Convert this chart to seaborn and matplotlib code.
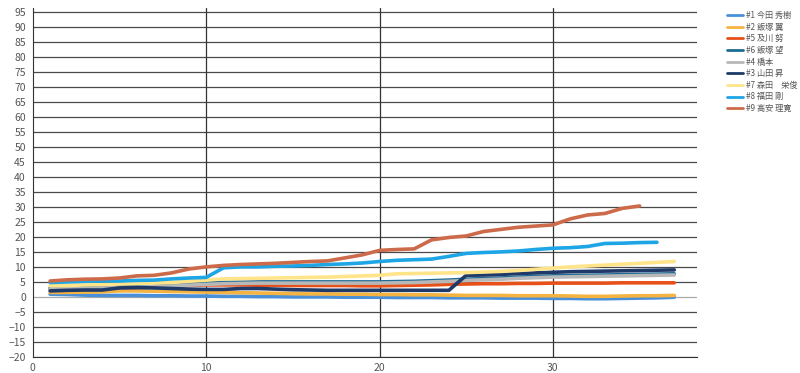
import numpy as np
import pandas as pd
import matplotlib
matplotlib.use("Agg")
import matplotlib.pyplot as plt
import seaborn as sns

players = ["#1 今田 秀樹", "#2 飯塚 翼", "#5 及川 努", "#6 飯塚 望", "#4 橋本",
           "#3 山田 昇", "#7 森田　栄俊", "#8 福田 剛", "#9 高安 理寛"]
colors = ["#4a90d9", "#f5b342", "#e8501a", "#1e6b96", "#b8b8b8",
          "#1f3a68", "#ffe48a", "#1ea5e6", "#cc6a4a"]

p1 = [0.9, 0.8, 0.6, 0.5, 0.5, 0.5, 0.4, 0.4, 0.3, 0.3, 0.2, 0.2, 0.1, 0.1, 0.0, 0.0, 0.0, -0.1, -0.1, -0.1,
      -0.2, -0.2, -0.2, -0.3, -0.3, -0.3, -0.4, -0.4, -0.4, -0.5, -0.5, -0.6, -0.6, -0.5, -0.4, -0.3, -0.1]
p2 = [1.5, 1.5, 1.6, 1.7, 2.0, 2.0, 1.9, 1.8, 1.7, 1.6, 1.5, 1.4, 1.3, 1.2, 1.1, 1.0, 1.0, 0.9, 0.9, 0.8,
      0.8, 0.7, 0.7, 0.6, 0.5, 0.5, 0.5, 0.4, 0.4, 0.4, 0.3, 0.2, 0.2, 0.3, 0.4, 0.4, 0.5]
p5 = [2.5, 2.6, 2.7, 2.8, 3.0, 3.1, 3.3, 3.5, 3.8, 4.0, 4.0, 4.0, 3.9, 3.9, 3.8, 3.8, 3.8, 3.8, 3.7, 3.7,
      3.8, 3.9, 4.0, 4.2, 4.3, 4.4, 4.4, 4.5, 4.5, 4.6, 4.6, 4.6, 4.6, 4.7, 4.7, 4.7, 4.7]
p6 = [3.0, 3.1, 3.2, 3.3, 3.5, 3.6, 3.8, 4.0, 4.3, 4.6, 4.8, 4.9, 5.0, 5.0, 5.0, 5.0, 5.0, 5.0, 5.0, 5.0,
      5.1, 5.2, 5.4, 5.6, 5.9, 6.1, 6.3, 6.6, 6.8, 7.0, 7.1, 7.2, 7.3, 7.4, 7.5, 7.6, 7.7]
p4 = [2.6, 2.7, 2.8, 2.9, 3.1, 3.2, 3.4, 3.6, 3.9, 4.2, 4.4, 4.5, 4.6, 4.6, 4.6, 4.6, 4.6, 4.6, 4.6, 4.6,
      4.7, 4.8, 5.0, 5.2, 5.5, 5.7, 5.9, 6.2, 6.4, 6.6, 6.7, 6.8, 6.9, 7.0, 7.1, 7.2, 7.3]
p3 = [2.0, 2.2, 2.3, 2.3, 3.0, 3.1, 3.0, 2.8, 2.6, 2.5, 2.5, 2.8, 2.8, 2.6, 2.4, 2.3, 2.2, 2.2, 2.2, 2.2,
      2.2, 2.2, 2.2, 2.2, 7.2, 7.3, 7.5, 7.8, 8.0, 8.2, 8.4, 8.5, 8.6, 8.7, 8.8, 8.9, 9.0]
p7 = [3.7, 3.8, 4.0, 4.1, 4.3, 4.5, 4.6, 4.8, 5.2, 5.6, 6.0, 6.1, 6.2, 6.3, 6.4, 6.5, 6.6, 6.8, 7.0, 7.2,
      7.7, 7.8, 7.9, 8.0, 8.1, 8.3, 8.5, 8.8, 9.2, 9.6, 10.0, 10.3, 10.6, 10.9, 11.2, 11.5, 11.8]
p8 = [4.8, 5.0, 5.2, 5.3, 5.3, 5.5, 5.6, 6.0, 6.3, 6.5, 9.7, 10.0, 10.0, 10.2, 10.3, 10.5, 10.8, 11.0, 11.3, 11.8,
      12.2, 12.4, 12.6, 13.5, 14.5, 14.8, 15.0, 15.3, 15.8, 16.2, 16.4, 16.8, 17.8, 17.9, 18.1, 18.2]
p9 = [5.3, 5.7, 5.9, 6.0, 6.3, 7.0, 7.2, 8.0, 9.3, 10.0, 10.5, 10.8, 11.0, 11.2, 11.5, 11.8, 12.0, 13.0, 14.0, 15.5,
      15.8, 16.0, 19.0, 19.8, 20.3, 21.8, 22.5, 23.2, 23.6, 24.0, 26.0, 27.3, 27.8, 29.5, 30.3]

series = [p1, p2, p5, p6, p4, p3, p7, p8, p9]
y_ticks = list(range(-20, 100, 5))
x_ticks = [0, 10, 20, 30]

rows = []
for name, vals in zip(players, series):
    for i, v in enumerate(vals):
        rows.append({"game": i + 1, "score": v, "player": name})
df = pd.DataFrame(rows)

sns.set_style("white")
plt.rcParams["font.family"] = ["Noto Sans CJK JP", "DejaVu Sans"]

fig = plt.figure(figsize=(8, 3.73), dpi=100)
ax = fig.add_axes([0.041, 0.043, 0.830, 0.936])

for y in y_ticks:
    ax.axhline(y, color="#aaaaaa" if y == 0 else "#4a4a4a", lw=0.9, zorder=0)
for x in x_ticks[1:]:
    ax.axvline(x, color="#333333", lw=0.9, zorder=0)

sns.lineplot(data=df, x="game", y="score", hue="player", hue_order=players,
             palette=dict(zip(players, colors)), linewidth=2.6, ax=ax,
             estimator=None, sort=True)

ax.set_xlim(0, 38.3)
ax.set_ylim(-20, 96.3)
ax.set_yticks(y_ticks)
ax.set_xticks(x_ticks)
ax.set_xlabel("")
ax.set_ylabel("")
ax.tick_params(axis="both", labelsize=7.5, colors="#555555", length=4, width=0.8, pad=1)
ax.tick_params(axis="x", length=0, pad=4)
for s in ["top", "right"]:
    ax.spines[s].set_visible(False)
ax.spines["left"].set_color("#333333")
ax.spines["bottom"].set_color("#333333")

leg = ax.legend(loc="upper left", bbox_to_anchor=(1.04, 1.0), frameon=False,
                fontsize=5.9, handlelength=2.0, handletextpad=0.4,
                labelspacing=0.32, borderaxespad=0)
for line in leg.get_lines():
    line.set_linewidth(2.0)
for t in leg.get_texts():
    t.set_color("#555555")

fig.savefig("out.png", dpi=100)
